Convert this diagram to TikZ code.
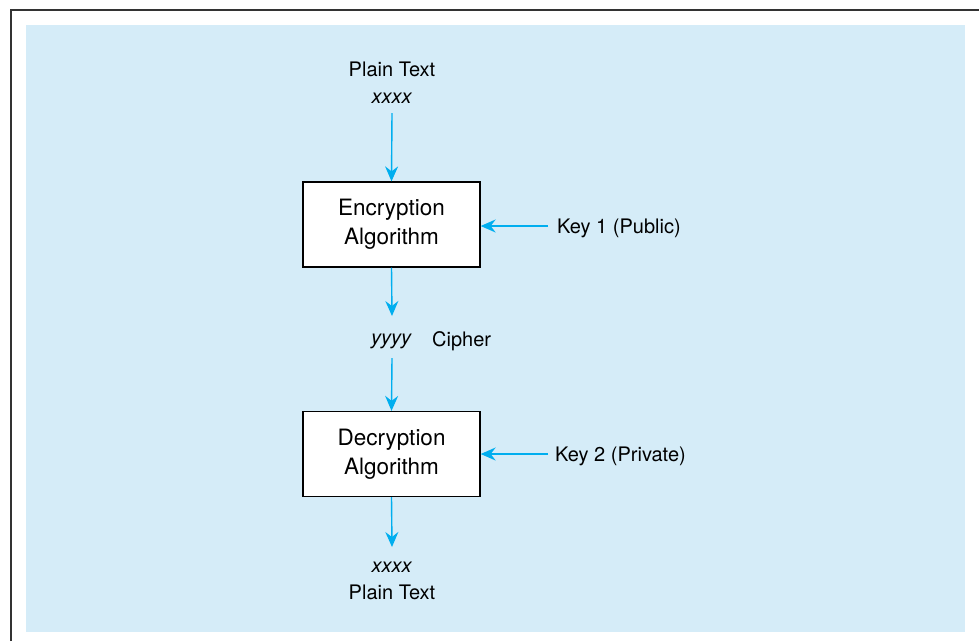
\documentclass[tikz,border=0pt]{standalone}
\usepackage{fontspec}
\setmainfont{TeX Gyre Heros}
\usetikzlibrary{arrows.meta}
\definecolor{bgblue}{HTML}{D5ECF8}
\definecolor{arrcyan}{HTML}{00AEEF}
\tikzset{
  algbox/.style={draw=black, line width=1.3pt, fill=white, minimum width=177pt, minimum height=85pt, align=center, font=\fontsize{22.5}{29}\selectfont, inner sep=0pt},
  lbl/.style={font=\fontsize{20}{27}\selectfont, align=center, inner sep=0pt},
  arr/.style={draw=arrcyan, line width=1.4pt, -{Stealth[length=15pt,width=13pt,inset=5pt]}}
}
\begin{document}
\begin{tikzpicture}[x=1pt,y=-1pt]
\useasboundingbox (0,0) rectangle (979,641);
\fill[bgblue] (26,25) rectangle (965,632);
\draw[line width=2pt, black!80] (11,641) -- (11,10) -- (979,10);

\node[lbl] (pt1) at (392,83) {Plain Text\\\textit{xxxx}};
\coordinate (a1s) at (392,113);
\node[algbox] (enc) at (391.5,224.5) {\rule{0pt}{4pt}Encryption\\Algorithm};
\node[lbl, anchor=west] (k1) at (557,228) {Key 1 (Public)};
\coordinate (k1s) at (548,226);

\coordinate (a2e) at (392,316);
\node[lbl, anchor=east] (y) at (412,341) {\textit{yyyy}};
\node[lbl, anchor=west] (ciph) at (432,341) {Cipher};
\coordinate (a3s) at (392,358);

\node[algbox] (dec) at (391.5,454) {\rule{0pt}{4pt}Decryption\\Algorithm};
\node[lbl, anchor=west] (k2) at (555,456) {Key 2 (Private)};
\coordinate (k2s) at (548,454);

\coordinate (a4e) at (392,547);
\node[lbl] (pt2) at (392,581) {\textit{xxxx}\\Plain Text};

\draw[arr] (a1s) -- (enc.north);
\draw[arr] (k1s) -- (enc.east |- k1s);
\draw[arr] (enc.south) -- (a2e);
\draw[arr] (a3s) -- (dec.north);
\draw[arr] (k2s) -- (dec.east |- k2s);
\draw[arr] (dec.south) -- (a4e);
\end{tikzpicture}
\end{document}
